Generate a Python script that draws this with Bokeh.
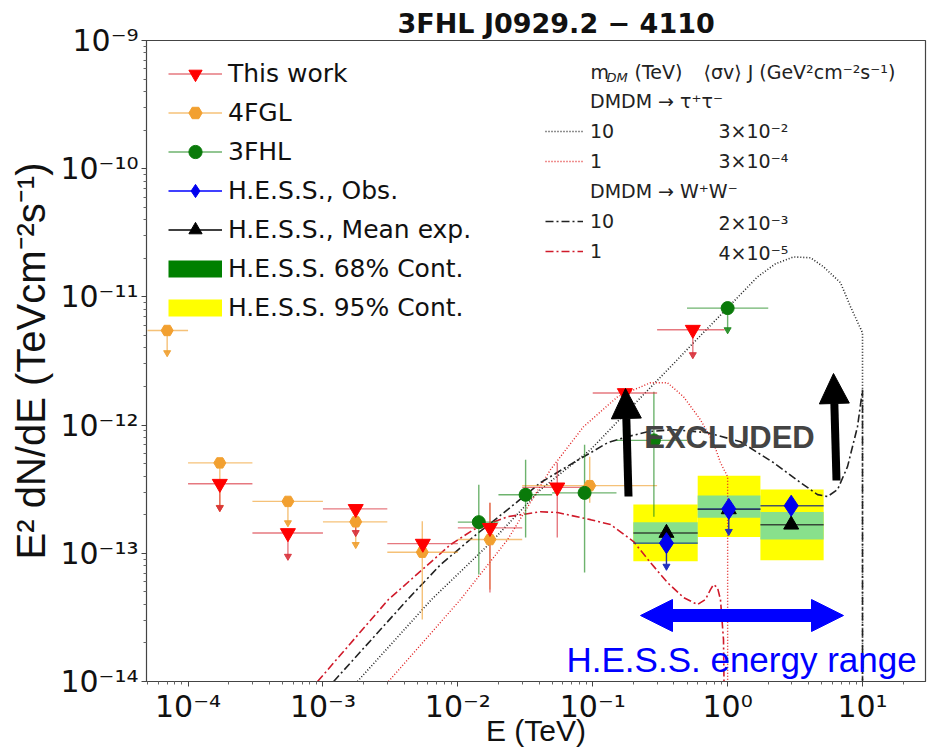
import numpy as np
from bokeh.plotting import figure
from bokeh.models import (Range1d, FixedTicker, CustomJSTickFormatter, Legend, LegendItem,
                          Label, Arrow, NormalHead, Title)
from bokeh.embed import file_html
from bokeh.resources import INLINE

# ---------------- data (E in TeV, E^2 dN/dE in TeV cm^-2 s^-1) ----------------
# This work (Fermi-LAT analysis)
tw_E   = [1.72e-4, 5.5e-4, 1.75e-3, 5.5e-3, 1.73e-2, 5.46e-2, 0.173, 0.552]
tw_Elo = [1e-4, 3e-4, 1e-3, 3e-3, 1e-2, 3e-2, 0.1, 0.3]
tw_Ehi = [3e-4, 1e-3, 3e-3, 1e-2, 3e-2, 0.1, 0.3, 0.95]
tw_F   = [3.49e-13, 1.44e-13, 2.22e-13, 1.19e-13, 1.58e-13, 3.27e-13, 1.78e-12, 5.55e-12]
tw_Flo = [2.27e-13, 9.47e-14, 1.45e-13, 1.19e-13, 4.94e-14, 1.33e-13, 1.2e-12, 3.54e-12]
tw_Fhi = [3.49e-13, 1.44e-13, 2.22e-13, 1.19e-13, 2.48e-13, 5.09e-13, 1.78e-12, 5.55e-12]
tw_UL  = [1, 1, 1, 0, 0, 0, 1, 1]

# 4FGL
fgl_E   = [7.0e-5, 1.72e-4, 5.5e-4, 1.75e-3, 5.45e-3, 1.73e-2, 9.5e-2]
fgl_Elo = [5e-5, 1e-4, 3e-4, 1e-3, 3e-3, 1e-2, 3e-2]
fgl_Ehi = [1e-4, 3e-4, 1e-3, 3e-3, 1e-2, 3e-2, 0.3]
fgl_F   = [5.47e-12, 5.07e-13, 2.54e-13, 1.76e-13, 1.02e-13, 1.28e-13, 3.37e-13]
fgl_Flo = [3.67e-12, 2.28e-13, 1.73e-13, 1.17e-13, 3.04e-14, 5.21e-14, 2.48e-13]
fgl_Fhi = [5.47e-12, 5.07e-13, 2.54e-13, 1.76e-13, 1.78e-13, 2.48e-13, 5.67e-13]
fgl_UL  = [1, 1, 1, 1, 0, 0, 0]

# 3FHL
fhl_E   = [1.43e-2, 3.18e-2, 8.7e-2, 0.284, 1.0]
fhl_Elo = [1e-2, 2e-2, 5e-2, 0.15, 0.5]
fhl_Ehi = [2e-2, 5e-2, 0.15, 0.5, 2.0]
fhl_F   = [1.75e-13, 2.86e-13, 2.96e-13, 7.6e-13, 8.18e-12]
fhl_Flo = [6.82e-14, 1.33e-13, 7.07e-14, 1.93e-13, 5.54e-12]
fhl_Fhi = [3.43e-13, 5.37e-13, 7.03e-13, 1.82e-12, 8.18e-12]
fhl_UL  = [0, 0, 0, 0, 1]

# H.E.S.S.
hess_E   = [0.352, 1.02, 2.96]
hess_Elo = [0.2, 0.6, 1.75]
hess_Ehi = [0.6, 1.75, 5.15]
obs_F    = [1.2e-13, 2.22e-13, 2.35e-13]
obs_Flo  = [7.92e-14, 1.48e-13, 1.67e-13]
obs_UL   = [1, 1, 0]
mean_F   = [1.44e-13, 2.2e-13, 1.67e-13]
c68_lo   = [1.18e-13, 1.89e-13, 1.28e-13]
c68_hi   = [1.75e-13, 2.83e-13, 2.10e-13]
c95_lo   = [8.67e-14, 1.34e-13, 8.82e-14]
c95_hi   = [2.40e-13, 4.03e-13, 3.14e-13]

# DM model spectra
tau10_E = [1.80e-3, 6.38e-3, 1.75e-2, 4.10e-2, 9.63e-2, 0.226, 0.397, 0.559, 1.0, 1.666,
           2.26, 3.08, 4.12, 5.14, 6.87, 8.15, 10.0, 10.0]
tau10_F = [1.0e-14, 4.36e-14, 1.21e-13, 3.14e-13, 6.43e-13, 1.635e-12, 3.01e-12, 4.39e-12,
           8.22e-12, 1.435e-11, 1.81e-11, 2.05e-11, 2.02e-11, 1.716e-11, 1.29e-11, 8.37e-12,
           5.25e-12, 1e-15]
tau1_E = [3.06e-3, 1.047e-2, 2.34e-2, 4.86e-2, 8.55e-2, 0.153, 0.268, 0.358, 0.471, 0.629,
          0.786, 0.885, 1.0, 1.0]
tau1_F = [1.0e-14, 4.36e-14, 1.28e-13, 4.49e-13, 9.72e-13, 1.665e-12, 2.14e-12, 2.14e-12,
          1.665e-12, 1.10e-12, 7.29e-13, 5.09e-13, 3.96e-13, 1e-15]
ww10_E = [1.20e-3, 4.24e-3, 7.45e-3, 1.31e-2, 2.34e-2, 4.10e-2, 7.20e-2, 0.129, 0.181, 0.255,
          0.397, 0.710, 1.246, 2.19, 3.47, 4.64, 5.50, 6.53, 7.74, 9.18, 10.0, 10.0]
ww10_F = [1.0e-14, 4.36e-14, 8.16e-14, 1.35e-13, 2.19e-13, 3.56e-13, 5.09e-13, 7.29e-13,
          8.12e-13, 8.88e-13, 9.21e-13, 8.73e-13, 7.42e-13, 5.09e-13, 3.56e-13, 2.87e-13,
          2.77e-13, 3.14e-13, 4.74e-13, 9.72e-13, 1.888e-12, 1e-15]
ww1_E = [9.12e-4, 3.06e-3, 8.83e-3, 1.31e-2, 2.34e-2, 4.10e-2, 5.48e-2, 9.63e-2, 0.1355,
         0.2007, 0.268, 0.358, 0.471, 0.598, 0.685, 0.746, 0.786, 0.841, 0.885, 0.932, 0.965]
ww1_F = [1.0e-14, 4.36e-14, 1.169e-13, 1.53e-13, 1.93e-13, 2.11e-13, 2.08e-13, 1.83e-13,
         1.675e-13, 1.234e-13, 8.46e-14, 5.91e-14, 4.52e-14, 3.98e-14, 4.36e-14, 5.21e-14,
         5.70e-14, 5.40e-14, 4.36e-14, 2.12e-14, 1.0e-15]

dm_mass  = ["10", "1", "10", "1"]
dm_sigvJ = ["3\u00d710\u207b\u00b2", "3\u00d710\u207b\u2074", "2\u00d710\u207b\u00b3", "4\u00d710\u207b\u2075"]

x_major = [1e-4, 1e-3, 1e-2, 1e-1, 1e0, 1e1]
y_major = [1e-14, 1e-13, 1e-12, 1e-11, 1e-10, 1e-9]

# ---------------- layout helpers (page pixels -> frame screen units) ----------------
FL, FB = 146, 681
def sx(px):
    return px - FL
def sy(py):
    return FB - py

p = figure(width=927, height=751, x_axis_type="log", y_axis_type="log",
           x_range=Range1d(4.92e-5, 29.3), y_range=Range1d(1e-14, 1e-9),
           output_backend="svg", toolbar_location=None,
           min_border_left=146, min_border_right=2, min_border_top=40, min_border_bottom=70)
p.xgrid.visible = False
p.ygrid.visible = False
p.outline_line_color = "#444444"
p.outline_line_width = 1.2

x_minor = [m * 10.0 ** k for k in range(-5, 2) for m in range(2, 10)]
y_minor = [m * 10.0 ** k for k in range(-15, -9) for m in range(2, 10)]
p.xaxis.ticker = FixedTicker(ticks=x_major, minor_ticks=x_minor)
p.yaxis.ticker = FixedTicker(ticks=y_major, minor_ticks=y_minor)
fmt_code = """
const e = Math.round(Math.log10(tick));
const m = {"-":"\u207b","0":"\u2070","1":"\u00b9","2":"\u00b2","3":"\u00b3","4":"\u2074",
           "5":"\u2075","6":"\u2076","7":"\u2077","8":"\u2078","9":"\u2079"};
return "10" + String(e).split("").map(c => m[c]).join("");
"""
for ax in (p.xaxis[0], p.yaxis[0]):
    ax.formatter = CustomJSTickFormatter(code=fmt_code)
    ax.major_label_text_font = "DejaVu Sans"
    ax.major_label_text_font_size = "30px"
    ax.major_label_text_color = "#111111"
    ax.major_tick_in = 0
    ax.major_tick_out = 5
    ax.minor_tick_in = 0
    ax.minor_tick_out = 3
    ax.axis_line_color = "#444444"
    ax.major_tick_line_color = "#444444"
    ax.minor_tick_line_color = "#666666"
    ax.major_label_standoff = 3
    ax.axis_label_text_font_style = "normal"
    ax.axis_label_text_color = "#111111"

p.yaxis.axis_label = "E\u00b2 dN/dE (TeVcm\u207b\u00b2s\u207b\u00b9)"
p.yaxis.axis_label_text_font = "Liberation Sans"
p.yaxis.axis_label_text_font_size = "40px"
p.yaxis.axis_label_standoff = 4

p.xaxis.axis_label = "E (TeV)"
p.xaxis.axis_label_text_font = "Liberation Sans"
p.xaxis.axis_label_text_font_size = "30px"
p.xaxis.major_label_standoff = 2
p.xaxis.axis_label_standoff = -13

p.title = Title(text="3FHL J0929.2 \u2212 4110", align="left", offset=251,
                text_font="DejaVu Sans", text_font_size="27px", text_font_style="bold",
                text_color="#111111", standoff=4)

# ---------------- H.E.S.S. containment bands ----------------
p.quad(left=hess_Elo, right=hess_Ehi, bottom=c95_lo, top=c95_hi,
       fill_color="#ffff00", line_color=None)
p.quad(left=hess_Elo, right=hess_Ehi, bottom=c68_lo, top=c68_hi,
       fill_color="#88e08c", line_color=None)

# ---------------- DM curves ----------------
r_tau10 = p.line(tau10_E, tau10_F, line_color="#222222", line_dash="1 2", line_width=1.6)
r_tau1 = p.line(tau1_E, tau1_F, line_color="#e02020", line_dash="1 2", line_width=1.4)
r_ww10 = p.line(ww10_E, ww10_F, line_color="#222222", line_dash="8 3 2 3", line_width=1.6)
r_ww1 = p.line(ww1_E, ww1_F, line_color="#d01a2a", line_dash="8 3 2 3", line_width=1.6)


def errorbars(E, Elo, Ehi, F, Flo, Fhi, UL, color, alpha):
    h = p.segment(x0=Elo, x1=Ehi, y0=F, y1=F, line_color=color, line_alpha=alpha, line_width=1.4)
    p.segment(x0=E, x1=E, y0=Flo, y1=Fhi, line_color=color, line_alpha=alpha, line_width=1.4)
    tx = [e for e, u in zip(E, UL) if u]
    ty = [f for f, u in zip(Flo, UL) if u]
    if tx:
        p.scatter(tx, ty, marker="inverted_triangle", size=7, color=color, alpha=0.9)
    return h


h_fgl = errorbars(fgl_E, fgl_Elo, fgl_Ehi, fgl_F, fgl_Flo, fgl_Fhi, fgl_UL, "#f0a030", 0.65)
h_fhl = errorbars(fhl_E, fhl_Elo, fhl_Ehi, fhl_F, fhl_Flo, fhl_Fhi, fhl_UL, "#1e8a1e", 0.65)
h_tw = errorbars(tw_E, tw_Elo, tw_Ehi, tw_F, tw_Flo, tw_Fhi, tw_UL, "#d8303a", 0.65)

m_fgl = p.scatter(fgl_E, fgl_F, marker="hex", size=12, color="#f2a030")
m_fhl = p.scatter(fhl_E, fhl_F, marker="circle", size=13, color="#0a7a0a")
m_tw = p.scatter(tw_E, tw_F, marker="inverted_triangle", size=15, color="#ff0000")

# H.E.S.S. points
h_mean = p.segment(x0=hess_Elo, x1=hess_Ehi, y0=mean_F, y1=mean_F, line_color="#222222",
                   line_alpha=0.8, line_width=1.4)
h_obs = p.segment(x0=hess_Elo, x1=hess_Ehi, y0=obs_F, y1=obs_F, line_color="#1a2a7a",
                  line_alpha=0.8, line_width=1.4)
p.segment(x0=hess_E, x1=hess_E, y0=obs_Flo, y1=obs_F, line_color="#2030a0", line_width=1.4)
p.scatter([e for e, u in zip(hess_E, obs_UL) if u], [f for f, u in zip(obs_Flo, obs_UL) if u],
          marker="inverted_triangle", size=7, color="#2030c0")
m_mean = p.scatter(hess_E, mean_F, marker="triangle", size=15, color="black")
m_obs = p.scatter(hess_E, obs_F, marker="diamond", size=21, color="#0000ee")

# legend swatches (one NaN point each, so nothing shows in the plot area)
nan = np.array([np.nan])
leg_blue = p.line(x=nan, y=nan, line_color="#0000ff", line_width=1.4)
leg_black = p.line(x=nan, y=nan, line_color="black", line_width=1.4)
leg68 = p.line(x=nan, y=nan, line_color="#008000", line_width=17)
leg95 = p.line(x=nan, y=nan, line_color="#ffff00", line_width=17)
blank = p.line(x=nan, y=nan, line_alpha=0)

# ---------------- annotations ----------------
for xs, ys, xe, ye in [(628, 496, 625, 388), (836, 480, 833, 373)]:
    p.add_layout(Arrow(end=NormalHead(size=30, fill_color="black", line_color="black"),
                       x_start=sx(xs), y_start=sy(ys), x_end=sx(xe), y_end=sy(ye),
                       start_units="screen", end_units="screen",
                       line_color="black", line_width=8))

p.add_layout(Label(x=sx(729), y=sy(437), x_units="screen", y_units="screen", text="EXCLUDED",
                   text_font="Liberation Sans", text_font_style="bold", text_font_size="31px",
                   text_color="#444444", text_align="center", text_baseline="middle"))

p.add_layout(Arrow(start=NormalHead(size=32, fill_color="#0000ff", line_color="#0000ff"),
                   end=NormalHead(size=32, fill_color="#0000ff", line_color="#0000ff"),
                   x_start=sx(640), y_start=sy(615), x_end=sx(843), y_end=sy(615),
                   start_units="screen", end_units="screen",
                   line_color="#0000ff", line_width=13))
p.add_layout(Label(x=sx(566), y=sy(659), x_units="screen", y_units="screen",
                   text="H.E.S.S. energy range", text_font="Liberation Sans",
                   text_font_size="35px", text_color="#0000ff", text_baseline="middle"))

# ---------------- legends ----------------
leg = Legend(items=[
    LegendItem(label="This work", renderers=[h_tw, m_tw]),
    LegendItem(label="4FGL", renderers=[h_fgl, m_fgl]),
    LegendItem(label="3FHL", renderers=[h_fhl, m_fhl]),
    LegendItem(label="H.E.S.S., Obs.", renderers=[leg_blue, m_obs]),
    LegendItem(label="H.E.S.S., Mean exp.", renderers=[leg_black, m_mean]),
    LegendItem(label="H.E.S.S. 68% Cont.", renderers=[leg68]),
    LegendItem(label="H.E.S.S. 95% Cont.", renderers=[leg95]),
], location=(22, 357), padding=0, margin=0, spacing=6, glyph_width=54, glyph_height=33,
   label_height=33, label_standoff=6, label_text_font="DejaVu Sans", label_text_font_size="25px",
   label_text_color="#111111", background_fill_alpha=0, border_line_alpha=0)
p.add_layout(leg)

leg2 = Legend(items=[
    LegendItem(label="DMDM \u2192 \u03c4\u207a\u03c4\u207b", renderers=[blank]),
    LegendItem(label=dm_mass[0], renderers=[r_tau10]),
    LegendItem(label=dm_mass[1], renderers=[r_tau1]),
    LegendItem(label="DMDM \u2192 W\u207aW\u207b", renderers=[blank]),
    LegendItem(label=dm_mass[2], renderers=[r_ww10]),
    LegendItem(label=dm_mass[3], renderers=[r_ww1]),
], location=(399, 419), padding=0, margin=0, spacing=8, glyph_width=38, glyph_height=12,
   label_height=12, label_standoff=7, label_text_font="DejaVu Sans", label_text_font_size="19px",
   label_text_color="#222222", background_fill_alpha=0, border_line_alpha=0)
p.add_layout(leg2)

for txt, py in zip(dm_sigvJ, [130, 160, 222, 252]):
    p.add_layout(Label(x=sx(718), y=sy(py), x_units="screen", y_units="screen", text=txt,
                       text_font="DejaVu Sans", text_font_size="19px", text_color="#222222",
                       text_baseline="middle"))
hdr = [("m", 590, 71, "19px", "normal"), ("DM", 606, 77, "13px", "italic"),
       ("(TeV)", 634, 71, "19px", "normal"),
       ("\u27e8\u03c3v\u27e9 J (GeV\u00b2cm\u207b\u00b2s\u207b\u00b9)", 703, 71, "19px", "normal")]
for txt, px, py, fs, st in hdr:
    p.add_layout(Label(x=sx(px), y=sy(py), x_units="screen", y_units="screen", text=txt,
                       text_font="DejaVu Sans", text_font_size=fs, text_font_style=st,
                       text_color="#222222", text_baseline="middle"))

open("out.html", "w").write(file_html(p, INLINE))
